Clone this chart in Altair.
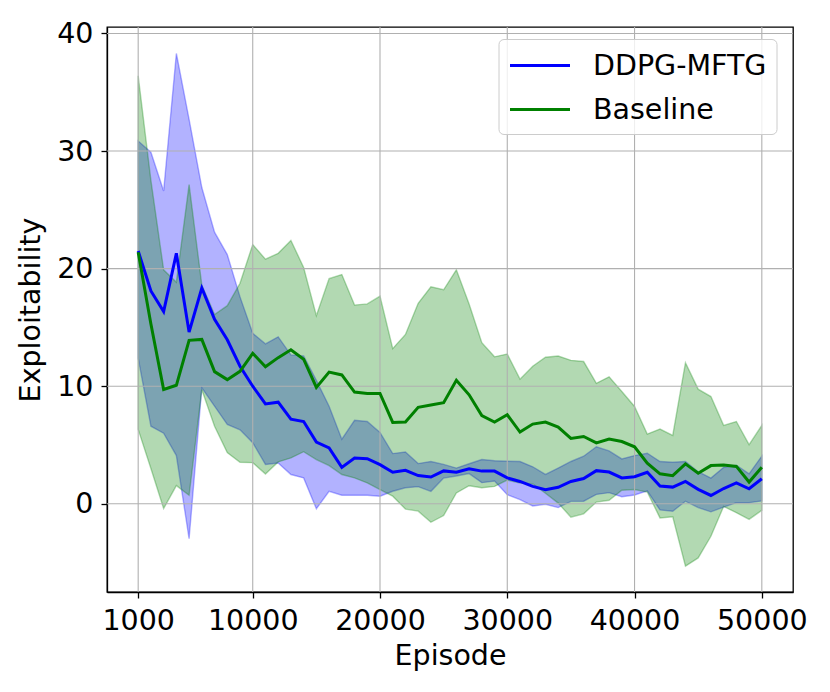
import altair as alt
import pandas as pd

episodes = list(range(1000, 50001, 1000))

ddpg_mean = [21.5, 18.1, 16.35, 21.3, 14.6, 18.35, 15.7, 13.95, 11.7, 10.0,
             8.5, 8.64, 7.2, 7.0, 5.25, 4.75, 3.1, 3.9, 3.84, 3.33,
             2.68, 2.85, 2.4, 2.28, 2.8, 2.68, 2.98, 2.78, 2.78, 2.2,
             1.9, 1.48, 1.2, 1.4, 1.9, 2.15, 2.82, 2.7, 2.2, 2.3,
             2.68, 1.52, 1.42, 1.9, 1.23, 0.71, 1.3, 1.77, 1.28, 2.13]
ddpg_upper = [30.85, 29.9, 26.6, 38.3, 32.7, 26.9, 23.1, 21.2, 17.6, 14.5,
              13.6, 14.2, 12.66, 12.57, 10.5, 8.3, 5.5, 7.1, 7.0, 6.07,
              4.27, 4.4, 3.42, 3.6, 3.35, 3.04, 3.41, 3.77, 3.66, 3.62,
              3.6, 3.15, 2.5, 3.04, 3.6, 4.05, 4.85, 4.5, 3.82, 4.1,
              4.3, 3.6, 3.53, 3.6, 2.73, 2.19, 3.1, 3.28, 2.55, 4.06]
ddpg_lower = [12.4, 6.6, 6.0, 4.1, -2.97, 9.86, 8.3, 6.75, 6.3, 5.2,
              3.35, 3.47, 2.49, 2.2, -0.42, 1.07, 0.73, 0.73, 0.73, 0.65,
              1.07, 1.37, 1.46, 1.06, 2.19, 2.36, 2.57, 1.8, 1.94, 0.78,
              0.36, -0.18, -0.04, -0.32, 0.21, 0.22, 0.8, 0.95, 0.6, 0.75,
              1.1, -0.52, -0.63, 0.22, -0.32, -0.68, -0.28, 0.1, 0.1, 0.24]

base_mean = [21.4, 15.3, 9.72, 10.08, 13.9, 13.98, 11.24, 10.56, 11.27, 12.8,
             11.65, 12.43, 13.1, 12.3, 9.9, 11.2, 10.96, 9.5, 9.38, 9.38,
             6.92, 6.95, 8.2, 8.4, 8.6, 10.5, 9.27, 7.5, 6.95, 7.57,
             6.1, 6.78, 6.95, 6.53, 5.56, 5.73, 5.18, 5.5, 5.3, 4.85,
             3.46, 2.55, 2.39, 3.4, 2.6, 3.25, 3.31, 3.18, 1.85, 3.11]
base_upper = [36.4, 27.5, 19.9, 18.85, 27.15, 18.6, 16.1, 16.85, 18.75, 22.05,
              20.8, 21.3, 22.4, 20.1, 16.0, 19.15, 19.5, 16.9, 17.0, 17.66,
              13.2, 14.4, 17.05, 18.45, 18.2, 19.9, 17.0, 13.7, 12.5, 12.74,
              10.6, 11.7, 12.46, 12.57, 12.2, 12.1, 10.25, 10.8, 9.55, 8.28,
              5.93, 6.36, 5.82, 12.0, 9.75, 9.12, 6.67, 7.0, 5.03, 6.67]
base_lower = [6.33, 3.0, -0.4, 1.55, 0.73, 9.7, 6.6, 4.35, 3.53, 3.5,
              2.54, 3.56, 3.9, 4.43, 3.76, 3.25, 2.49, 2.2, 1.78, 1.21,
              0.65, -0.45, -0.62, -1.57, -1.0, 0.92, 1.54, 1.37, 1.48, 2.02,
              1.76, 1.7, 0.9, 0.06, -1.13, -0.85, 0.15, 0.3, 1.15, 1.22,
              1.0, -1.2, -1.1, -5.3, -4.6, -2.76, -0.22, -0.75, -1.32, -0.55]

series_names = ["DDPG-MFTG", "Baseline"]
series_colors = ["blue", "green"]
x_ticks = [1000, 10000, 20000, 30000, 40000, 50000]
y_ticks = [0, 10, 20, 30, 40]

band_df = pd.DataFrame({
    "episode": episodes,
    "ddpg_lower": ddpg_lower, "ddpg_upper": ddpg_upper,
    "base_lower": base_lower, "base_upper": base_upper,
})
line_df = pd.concat([
    pd.DataFrame({"episode": episodes, "value": ddpg_mean, "series": series_names[0]}),
    pd.DataFrame({"episode": episodes, "value": base_mean, "series": series_names[1]}),
])

FONT = "DejaVu Sans"
FS = 28.5
xscale = alt.Scale(domain=[-1450, 52450], nice=False, zero=False)
yscale = alt.Scale(domain=[-7.5, 40.55], nice=False, zero=False)
xaxis = alt.Axis(values=x_ticks, format="d", title="Episode", grid=False)
yaxis = alt.Axis(values=y_ticks, format="d", title="Exploitability", grid=False)


def X(field):
    return alt.X(field, type="quantitative", scale=xscale, axis=xaxis)


def Y(field):
    return alt.Y(field, type="quantitative", scale=yscale, axis=yaxis)


blue_band = alt.Chart(band_df).mark_area(
    fill="blue", fillOpacity=0.3, stroke="blue", strokeOpacity=0.3, strokeWidth=1.4
).encode(x=X("episode"), y=Y("ddpg_lower"), y2=alt.Y2("ddpg_upper"))

green_band = alt.Chart(band_df).mark_area(
    fill="green", fillOpacity=0.3, stroke="green", strokeOpacity=0.3, strokeWidth=1.4
).encode(x=X("episode"), y=Y("base_lower"), y2=alt.Y2("base_upper"))

xgrid = alt.Chart(pd.DataFrame({"tick": x_ticks})).mark_rule(
    color="#b0b0b0", strokeWidth=1.1
).encode(x=X("tick"))
ygrid = alt.Chart(pd.DataFrame({"tick": y_ticks})).mark_rule(
    color="#b0b0b0", strokeWidth=1.1
).encode(y=Y("tick"))

lines = alt.Chart(line_df).mark_line(strokeWidth=3).encode(
    x=X("episode"),
    y=Y("value"),
    order=alt.Order("episode:Q"),
    color=alt.Color(
        "series:N",
        sort=series_names,
        scale=alt.Scale(domain=series_names, range=series_colors),
        legend=alt.Legend(
            title=None,
            orient="none",
            legendX=391.5,
            legendY=12,
            symbolType="M-1,0H3",
            symbolSize=900,
            symbolStrokeWidth=3,
            labelFont=FONT,
            labelFontSize=FS,
            labelColor="black",
            labelOffset=51.5,
            labelLimit=400,
            padding=10,
            rowPadding=13,
            fillColor="rgba(255,255,255,0.8)",
            strokeColor="#cccccc",
            cornerRadius=5,
        ),
    ),
)

chart = alt.layer(blue_band, green_band, xgrid, ygrid, lines).properties(
    width=686,
    height=565,
    autosize=alt.AutoSizeParams(type="none"),
    padding={"left": 99, "top": 19, "right": 20, "bottom": 80},
).configure_view(
    stroke="black", strokeWidth=1.3
).configure_axis(
    domainColor="black", domainWidth=1.3,
    tickColor="black", tickWidth=1.3, tickSize=6,
    labelFont=FONT, labelFontSize=FS, labelColor="black", labelPadding=8,
    titleFont=FONT, titleFontSize=FS, titleFontWeight="normal", titleColor="black",
).configure_axisX(titlePadding=7).configure_axisY(titlePadding=11)

chart.save("out.html", embed_options={"renderer": "svg", "actions": False})
